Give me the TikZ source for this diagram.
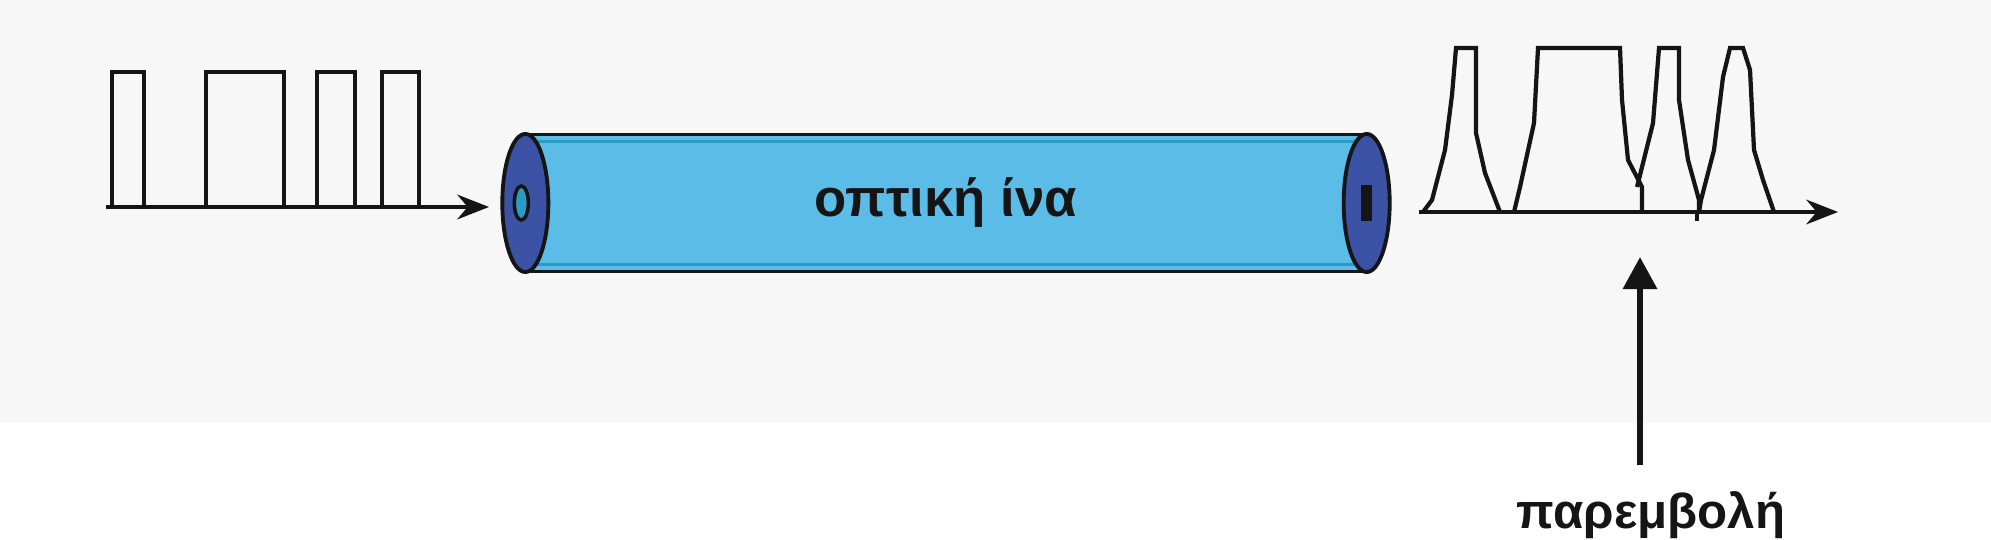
\documentclass[tikz,border=0pt]{standalone}
\usepackage{fontspec}
\setmainfont[Script=Greek]{Liberation Sans}
\usetikzlibrary{arrows.meta, positioning, shapes.geometric}
\definecolor{fibreblue}{HTML}{5BBCE8}
\definecolor{capblue}{HTML}{3C52A4}
\definecolor{edgeteal}{HTML}{2A9CC4}
\definecolor{bgdots}{HTML}{F7F7F7}
\definecolor{ink}{HTML}{151515}

\begin{document}
\begin{tikzpicture}[
        x=0.01cm, y=-0.01cm, % one unit per pixel, y downwards
        signal/.style={draw=ink, line width=1.2pt, line join=miter},
        timeaxis/.style={draw=ink, line width=1.2pt, -{Stealth[length=9pt, width=7pt]}},
        tube/.style={draw=ink, line width=1.1pt, fill=fibreblue, minimum width=8.37cm, minimum height=1.37cm, inner sep=0pt, text=ink, font=\bfseries\fontsize{15}{17}\selectfont},
        endcap/.style={ellipse, draw=ink, line width=1.1pt, fill=capblue, minimum width=0.46cm, minimum height=1.38cm, inner sep=0pt},
        notetext/.style={text=ink, inner sep=0pt, font=\bfseries\fontsize{14}{16}\selectfont},
        pointer/.style={draw=ink, line width=1.8pt, -{Triangle[length=0.32cm, width=0.33cm]}}
      ]

      % Background
      \fill[bgdots] (0,0) rectangle (1991,423);
      \useasboundingbox (0,0) rectangle (1991,540);

      % Fibre
      \node (fibre) [tube] at (946,203) {οπτική ίνα};
      \draw[edgeteal, line width=0.8pt] ([yshift=-2.5pt]fibre.north west) -- ([yshift=-2.5pt]fibre.north east);
      \draw[edgeteal, line width=0.8pt] ([yshift=2.5pt]fibre.south west) -- ([yshift=2.5pt]fibre.south east);
      \node (lcap) [endcap] at (fibre.west) {};
      \node (rcap) [endcap] at (fibre.east) {};
      \node (lcore) [ellipse, draw=ink, line width=1pt, fill=edgeteal, minimum width=0.14cm, minimum height=0.34cm, inner sep=0pt] at ([xshift=-0.04cm]lcap.center) {};
      \node (rcore) [fill=ink, minimum width=0.11cm, minimum height=0.35cm, inner sep=0pt] at (rcap.center) {};

      % Input pulses
      \draw[timeaxis] (106,207) -- (489,207);
      \foreach \a/\b in {112/144, 206/284, 317/355, 382/419}
        \draw[signal] (\a,207) rectangle (\b,72);

      % Output pulses
      \draw[timeaxis] (1419,212) -- (1838,212);
      \draw[signal] (1423,212) -- (1432,200) -- (1445,150) -- (1452,95) -- (1456,48) -- (1476,48) -- (1476,133) -- (1485,173) -- (1500,212);
      \draw[signal] (1514,212) -- (1520,187) -- (1534,123) -- (1538,48) -- (1620,48) -- (1622,100) -- (1628,160) -- (1642,187) -- (1642,212);
      \draw[signal] (1637,187) -- (1653,123) -- (1659,48) -- (1679,48) -- (1679,100) -- (1688,160) -- (1699,200) -- (1699,212);
      \draw[signal] (1699,212) -- (1701,200) -- (1714,150) -- (1723,77) -- (1730,48) -- (1743,48) -- (1750,70) -- (1754,150) -- (1763,180) -- (1774,212);
      \draw[signal] (1697,212) -- (1697,221);

      % Interference
      \coordinate (overlap) at (1640,257);
      \node (interf) [notetext, anchor=base] at (1651,528) {παρεμβολή};
      \draw[pointer] ([yshift=0.25cm]interf.north -| overlap) -- (overlap);

    \end{tikzpicture}
\end{document}
